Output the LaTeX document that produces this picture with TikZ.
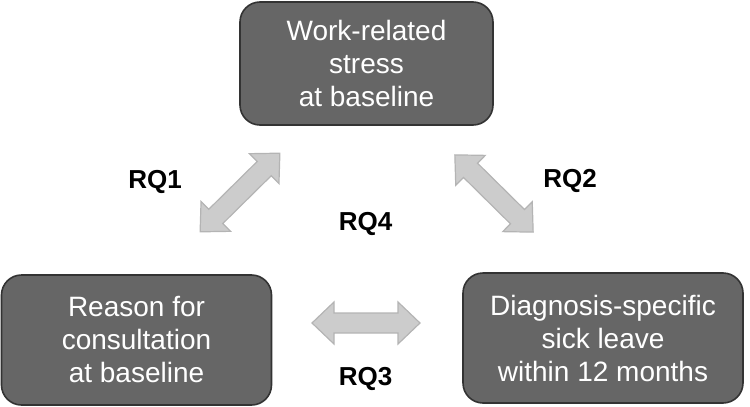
\documentclass[tikz,border=0pt]{standalone}
\usepackage{fontspec}
\setmainfont{Liberation Sans}
\definecolor{boxfill}{HTML}{666666}
\definecolor{boxline}{HTML}{333333}
\definecolor{arrfill}{HTML}{CCCCCC}
\definecolor{arrline}{HTML}{B4B4B4}
\tikzset{
  stepbox/.style={draw=boxline, line width=1.6pt, fill=boxfill, rounded corners=20pt,
    text=white, align=center, inner sep=0pt, font=\fontsize{28}{33}\selectfont},
  rqlabel/.style={font=\fontsize{26}{30}\selectfont\bfseries, text=black, inner sep=0pt},
  blockarrow/.style={draw=arrline, line width=1.2pt, fill=arrfill, line join=miter},
}
\newcommand{\dblarrow}[1]{% length
  \draw[blockarrow] (-#1/2,0) -- (-#1/2+22,21) -- (-#1/2+22,10) -- (#1/2-22,10) -- (#1/2-22,21)
    -- (#1/2,0) -- (#1/2-22,-21) -- (#1/2-22,-10) -- (-#1/2+22,-10) -- (-#1/2+22,-21) -- cycle;}
\begin{document}
\begin{tikzpicture}[x=1pt,y=-1pt]
\useasboundingbox (0,0) rectangle (750,407);
\node[stepbox, minimum width=253pt, minimum height=123pt] (work) at (366.5,63.5)
  {Work-related\\stress\\at baseline};
\node[stepbox, minimum width=270pt, minimum height=130pt] (reason) at (136.5,340)
  {Reason for\\consultation\\at baseline};
\node[stepbox, minimum width=280pt, minimum height=130pt] (diag) at (603,338)
  {Diagnosis-specific\\sick leave\\within 12 months};
\begin{scope}[shift={(240,192.5)}, rotate=44.6]
  \coordinate (a1) at (0,0); \dblarrow{112}
\end{scope}
\begin{scope}[shift={(494,193.5)}, rotate=-44.6]
  \coordinate (a2) at (0,0); \dblarrow{110}
\end{scope}
\begin{scope}[shift={(366,323)}]
  \coordinate (a3) at (0,0); \dblarrow{108}
\end{scope}
\node[rqlabel] (rq1) at (155,182) {RQ1};
\node[rqlabel] (rq2) at (570,181) {RQ2};
\node[rqlabel] (rq4) at (365.5,224) {RQ4};
\node[rqlabel] (rq3) at (365.5,379) {RQ3};
\end{tikzpicture}
\end{document}
